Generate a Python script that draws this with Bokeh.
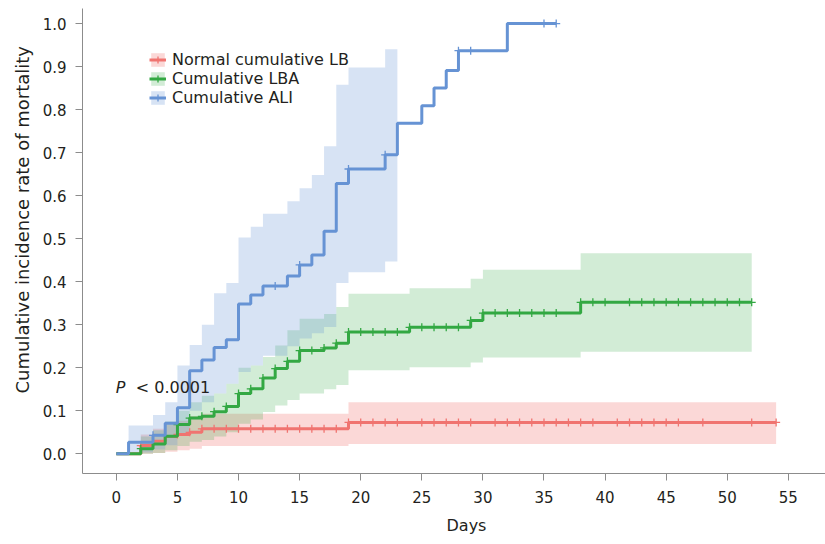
import math
from bokeh.plotting import figure
from bokeh.models import (Label, Legend, LegendItem, FixedTicker,
                          PrintfTickFormatter, Title)
from bokeh.embed import file_html
from bokeh.resources import INLINE

# ---------------- data ----------------
x_ticks = [0, 5, 10, 15, 20, 25, 30, 35, 40, 45, 50, 55]
y_ticks = [0.0, 0.1, 0.2, 0.3, 0.4, 0.5, 0.6, 0.7, 0.8, 0.9, 1.0]

# Normal cumulative LB (red)
nor_t = [0, 2, 3, 4, 5, 6, 7, 19]
nor_est = [0.0, 0.019, 0.029, 0.040, 0.045, 0.050, 0.058, 0.073]
nor_lo = [0.0, 0.0, 0.002, 0.005, 0.008, 0.012, 0.018, 0.023]
nor_hi = [0.0, 0.045, 0.058, 0.068, 0.077, 0.087, 0.093, 0.120]
nor_end = 54
nor_censor = [2, 5, 6, 7, 8, 9, 10, 11, 12, 13, 14, 15, 16, 17, 18, 19, 20,
              21, 22, 23, 25, 26, 27, 28, 29, 31, 32, 33, 34, 35, 36, 37, 38,
              39, 41, 42, 43, 44, 45, 46, 48, 52, 54]

# Cumulative LBA (green)
lba_t = [0, 2, 3, 4, 5, 6, 7, 8, 9, 10, 11, 12, 13, 14, 15, 17, 18, 19, 24,
         29, 30, 38]
lba_est = [0.0, 0.012, 0.023, 0.041, 0.068, 0.083, 0.087, 0.098, 0.110,
           0.140, 0.151, 0.176, 0.198, 0.215, 0.240, 0.246, 0.257, 0.283,
           0.294, 0.310, 0.327, 0.352]
lba_lo = [0.0, 0.0, 0.002, 0.008, 0.018, 0.028, 0.032, 0.040, 0.050, 0.070,
          0.080, 0.097, 0.112, 0.125, 0.140, 0.150, 0.160, 0.194, 0.201,
          0.212, 0.224, 0.237]
lba_hi = [0.0, 0.040, 0.055, 0.075, 0.100, 0.120, 0.135, 0.140, 0.163,
          0.200, 0.205, 0.225, 0.252, 0.287, 0.314, 0.325, 0.341, 0.372,
          0.385, 0.407, 0.428, 0.466]
lba_end = 52
lba_censor = [2, 5, 6, 7, 8, 9, 10, 11, 12, 13, 14, 15, 16, 17, 18, 19, 20,
              21, 22, 23, 24, 25, 26, 27, 28, 29, 30, 31, 32, 33, 34, 35, 36,
              38, 39, 40, 42, 43, 44, 45, 46, 47, 48, 49, 50, 51, 52]

# Cumulative ALI (blue)
ali_t = [0, 1, 3, 4, 5, 6, 7, 8, 9, 10, 11, 12, 14, 15, 16, 17, 18, 19, 22,
         23, 25, 26, 27, 28, 32]
ali_est = [0.0, 0.027, 0.043, 0.071, 0.107, 0.193, 0.218, 0.247, 0.265,
           0.348, 0.369, 0.390, 0.413, 0.439, 0.462, 0.517, 0.628, 0.662,
           0.695, 0.768, 0.809, 0.850, 0.891, 0.937, 1.0]
ali_end = 36
ali_ci_t = [0, 1, 3, 4, 5, 6, 7, 8, 9, 10, 11, 12, 14, 15, 16, 17, 18, 19, 22]
ali_lo = [0.0, 0.003, 0.010, 0.020, 0.045, 0.100, 0.120, 0.140, 0.163, 0.190,
          0.205, 0.228, 0.250, 0.268, 0.280, 0.295, 0.397, 0.422, 0.447]
ali_hi = [0.0, 0.066, 0.090, 0.120, 0.205, 0.253, 0.300, 0.373, 0.397, 0.503,
          0.528, 0.558, 0.587, 0.617, 0.648, 0.715, 0.858, 0.898, 0.940]
ali_ci_end = 23
ali_censor = [3, 13, 15, 19, 22, 28, 29, 35, 36]

labels = ["Normal cumulative LB", "Cumulative LBA", "Cumulative ALI"]
colors = ["#F07470", "#33A843", "#6693D4"]
band_alpha = [0.28, 0.22, 0.26]

FONT = "DejaVu Sans"
TXT = "#231F20"


def step_at(times, vals, t):
    v = vals[0]
    for ti, vi in zip(times, vals):
        if ti <= t:
            v = vi
    return v


p = figure(width=825, height=544, x_range=(-2.77, 58.04),
           y_range=(-0.0458, 1.035), output_backend="svg",
           toolbar_location=None, min_border_left=82, min_border_right=0,
           min_border_top=8, min_border_bottom=71)
p.outline_line_color = None
p.grid.visible = False
p.background_fill_color = "white"

series = [
    (nor_t, nor_est, nor_end, nor_t, nor_lo, nor_hi, nor_end, nor_censor),
    (lba_t, lba_est, lba_end, lba_t, lba_lo, lba_hi, lba_end, lba_censor),
    (ali_t, ali_est, ali_end, ali_ci_t, ali_lo, ali_hi, ali_ci_end, ali_censor),
]

bands, lines, marks = [], [], []
for i, (t, est, end, ct, lo, hi, cend, cens) in enumerate(series):
    b = p.varea_step(x=list(ct) + [cend], y1=list(lo) + [lo[-1]],
                     y2=list(hi) + [hi[-1]], step_mode="after",
                     fill_color=colors[i], fill_alpha=band_alpha[i])
    bands.append(b)

for i, (t, est, end, ct, lo, hi, cend, cens) in enumerate(series):
    l = p.step(x=list(t) + [end], y=list(est) + [est[-1]], mode="after",
               line_color=colors[i], line_width=3)
    lines.append(l)
    cy = [step_at(t, est, c) for c in cens]
    m = p.scatter(x=cens, y=cy, marker="cross", size=8, line_width=1.3,
                  line_color=colors[i])
    marks.append(m)

# axes
for ax in (p.xaxis[0], p.yaxis[0]):
    ax.axis_line_color = "#8C8C8C"
    ax.major_tick_line_color = "#8C8C8C"
    ax.major_tick_in = 0
    ax.major_tick_out = 7
    ax.minor_tick_line_color = None
    ax.major_label_text_font = FONT
    ax.major_label_text_font_size = "15px"
    ax.major_label_text_color = TXT
    ax.major_label_standoff = 9

p.xaxis.ticker = FixedTicker(ticks=x_ticks)
p.yaxis.ticker = FixedTicker(ticks=y_ticks)
p.yaxis.formatter = PrintfTickFormatter(format="%.1f")
p.xaxis.major_label_standoff = 10

# axis titles
p.add_layout(Title(text="Cumulative incidence rate of mortality",
                   align="left", offset=80, standoff=14,
                   text_font=FONT, text_font_size="18px",
                   text_font_style="normal", text_color=TXT), "left")
p.add_layout(Title(text="Days", align="left", offset=364, standoff=17,
                   text_font=FONT, text_font_size="16px",
                   text_font_style="normal", text_color=TXT), "below")

# p-value
p.add_layout(Label(x=-0.05, y=0.154, text="P", text_align="left",
                   text_baseline="middle", text_font=FONT,
                   text_font_style="italic", text_font_size="16px",
                   text_color=TXT))
p.add_layout(Label(x=-0.05, y=0.154, x_offset=20, text="< 0.0001",
                   text_align="left", text_baseline="middle", text_font=FONT,
                   text_font_size="16px", text_color=TXT))

items = [LegendItem(label=labels[i], renderers=[bands[i], lines[i], marks[i]])
         for i in range(3)]
legend = Legend(items=items, location=(67, 366), orientation="vertical",
                glyph_width=17, glyph_height=17, label_height=17,
                spacing=0, padding=0, margin=0, label_standoff=6,
                border_line_color=None, background_fill_alpha=0,
                label_text_font=FONT, label_text_font_size="16px",
                label_text_color=TXT)
p.add_layout(legend)

open("out.html", "w").write(file_html(p, INLINE))
